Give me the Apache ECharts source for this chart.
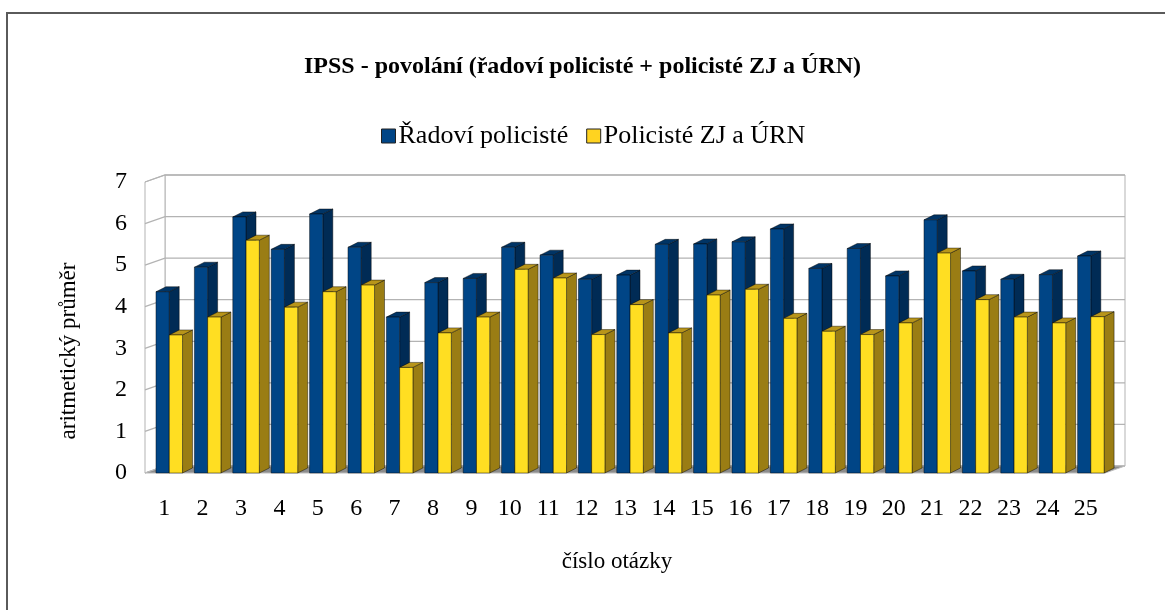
<!DOCTYPE html>
<html>
<head>
<meta charset="utf-8">
<script src="https://cdn.jsdelivr.net/npm/echarts@6/dist/echarts.min.js"></script>
<style>
  html, body { margin: 0; padding: 0; background: #fff; }
  #chart { width: 1165px; height: 610px; }
</style>
</head>
<body>
<div id="chart"></div>
<script>
const categories = ['1','2','3','4','5','6','7','8','9','10','11','12','13','14','15','16','17','18','19','20','21','22','23','24','25'];
const radovi = [4.36, 4.95, 6.16, 5.38, 6.23, 5.43, 3.75, 4.58, 4.68, 5.43, 5.24, 4.66, 4.76, 5.50, 5.51, 5.56, 5.87, 4.92, 5.40, 4.74, 6.09, 4.86, 4.66, 4.77, 5.22];
const zjUrn = [3.32, 3.75, 5.60, 3.99, 4.36, 4.52, 2.54, 3.37, 3.75, 4.90, 4.69, 3.33, 4.05, 3.37, 4.28, 4.42, 3.72, 3.41, 3.33, 3.61, 5.29, 4.17, 3.75, 3.61, 3.76];
const yTicks = [0, 1, 2, 3, 4, 5, 6, 7];

const font = '"Liberation Serif", "DejaVu Serif", serif';

// 3D look: floor depth offset (px)
const DEPTH_X = 20, DEPTH_Y = 7;

const chart = echarts.init(document.getElementById('chart'));

function wallsItem(params, api) {
  const cs = params.coordSys;
  const x0 = cs.x, x1 = cs.x + cs.width;
  const yAt = v => api.coord([0, v])[1];
  const y0 = yAt(0), yTop = yAt(7);
  const children = [];
  // back wall
  children.push({ type: 'rect', shape: { x: x0 + DEPTH_X, y: yTop - DEPTH_Y, width: x1 - x0, height: y0 - yTop },
    style: { fill: '#fff', stroke: '#b3b3b3', lineWidth: 1 } });
  // left wall
  children.push({ type: 'polygon', shape: { points: [[x0, yTop], [x0 + DEPTH_X, yTop - DEPTH_Y], [x0 + DEPTH_X, y0 - DEPTH_Y], [x0, y0]] },
    style: { fill: '#fff', stroke: '#b3b3b3', lineWidth: 1 } });
  yTicks.forEach(v => {
    const y = yAt(v);
    children.push({ type: 'polyline', shape: { points: [[x0, y], [x0 + DEPTH_X, y - DEPTH_Y], [x1 + DEPTH_X, y - DEPTH_Y]] },
      style: { fill: null, stroke: '#b3b3b3', lineWidth: 1.3 } });
  });
  // floor
  children.push({ type: 'polygon', shape: { points: [[x0, y0], [x1, y0], [x1 + DEPTH_X, y0 - DEPTH_Y], [x0 + DEPTH_X, y0 - DEPTH_Y]] },
    style: { fill: '#8c8c8c', stroke: '#bdbdbd', lineWidth: 1 } });
  return { type: 'group', children: children };
}

function barRenderer(offset, front, side, top) {
  return function (params, api) {
    const bw = api.size([1, 0])[0];
    const idx = api.value(0);
    const pBase = api.coord([idx, 0]);
    const pTop = api.coord([idx, api.value(1)]);
    const left = pBase[0] - bw / 2 + offset * bw;
    const w = 0.345 * bw;
    const dx = 0.26 * bw, dy = 5;
    const yt = pTop[1], yb = pBase[1];
    const edge = { stroke: 'rgba(0,0,0,0.55)', lineWidth: 0.8 };
    return {
      type: 'group',
      children: [
        { type: 'polygon', shape: { points: [[left + w, yt], [left + w + dx, yt - dy], [left + w + dx, yb - dy], [left + w, yb]] },
          style: Object.assign({ fill: side }, edge) },
        { type: 'polygon', shape: { points: [[left, yt], [left + dx, yt - dy], [left + w + dx, yt - dy], [left + w, yt]] },
          style: Object.assign({ fill: top }, edge) },
        { type: 'rect', shape: { x: left, y: yt, width: w, height: yb - yt },
          style: Object.assign({ fill: front }, edge) }
      ]
    };
  };
}

const option = {
  backgroundColor: '#fff',
  animation: false,
  title: {
    text: 'IPSS - povolání (řadoví policisté + policisté ZJ a ÚRN)',
    left: 'center',
    top: 50,
    textStyle: { fontFamily: font, fontWeight: 'bold', fontSize: 24, color: '#000' }
  },
  legend: {
    left: 376,
    top: 118,
    itemWidth: 14,
    itemHeight: 14,
    itemGap: 18,
    icon: 'rect',
    textStyle: { fontFamily: font, fontSize: 26, color: '#000', padding: [0, 0, 0, -2] },
    data: [
      { name: 'Řadoví policisté', itemStyle: { color: '#004586', borderColor: '#222', borderWidth: 1 } },
      { name: 'Policisté ZJ a ÚRN', itemStyle: { color: '#ffd320', borderColor: '#222', borderWidth: 1 } }
    ]
  },
  grid: { left: 145, right: 60, top: 182, bottom: 137 },
  xAxis: {
    type: 'category',
    data: categories,
    axisLine: { show: false },
    axisTick: { show: false },
    axisLabel: { fontFamily: font, fontSize: 24, color: '#000', margin: 24 }
  },
  yAxis: {
    type: 'value',
    min: 0,
    max: 7,
    interval: 1,
    axisLine: { show: false },
    axisTick: { show: false },
    splitLine: { show: false },
    axisLabel: { fontFamily: font, fontSize: 24, color: '#000', margin: 18 }
  },
  graphic: [
    { type: 'rect', shape: { x: 7, y: 13, width: 1200, height: 700 },
      style: { fill: null, stroke: '#5a5a5a', lineWidth: 2 }, z: 100 },
    { type: 'text', x: 69, y: 351, rotation: Math.PI / 2,
      style: { text: 'aritmetický průměr', fontFamily: font, fontSize: 23, fill: '#000', align: 'center', verticalAlign: 'middle' } },
    { type: 'text', x: 617, y: 562,
      style: { text: 'číslo otázky', fontFamily: font, fontSize: 23, fill: '#000', align: 'center', verticalAlign: 'middle' } }
  ],
  series: [
    {
      type: 'custom',
      name: 'walls',
      silent: true,
      z: 1,
      renderItem: wallsItem,
      data: [[0, 0]]
    },
    {
      type: 'custom',
      name: 'Řadoví policisté',
      z: 2,
      itemStyle: { color: '#004586' },
      renderItem: barRenderer(0.286, '#004586', '#002b55', '#003465'),
      encode: { x: 0, y: 1 },
      data: radovi.map((v, i) => [i, v])
    },
    {
      type: 'custom',
      name: 'Policisté ZJ a ÚRN',
      z: 3,
      itemStyle: { color: '#ffd320' },
      renderItem: barRenderer(0.632, '#ffde22', '#9a7d14', '#b8951a'),
      encode: { x: 0, y: 1 },
      data: zjUrn.map((v, i) => [i, v])
    }
  ]
};

chart.setOption(option);
</script>
</body>
</html>
